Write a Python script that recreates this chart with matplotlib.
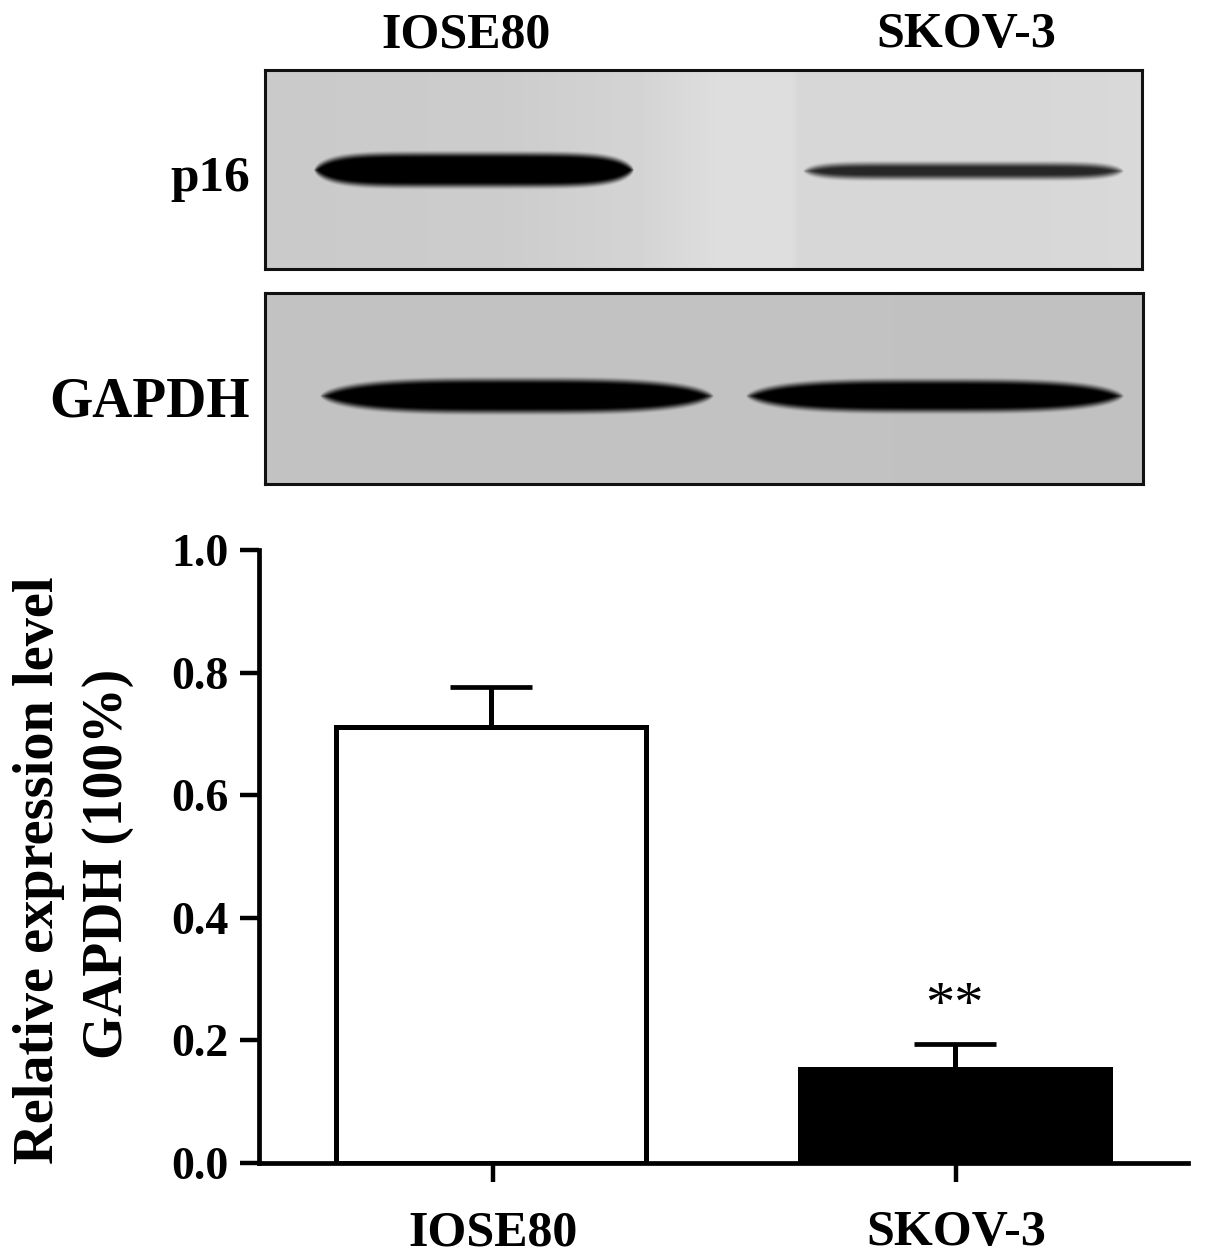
import numpy as np
import matplotlib
matplotlib.use("Agg")
import matplotlib.pyplot as plt

W, H = 1205, 1259

plt.rcParams['font.family'] = ['Liberation Serif', 'DejaVu Serif']
plt.rcParams['font.weight'] = 'bold'

# --- bar chart values ---
categories = ["IOSE80", "SKOV-3"]
means = [0.711, 0.153]
errors = [0.066, 0.041]
bar_colors = ["white", "black"]
y_ticks = [0.0, 0.2, 0.4, 0.6, 0.8, 1.0]
significance = "**"

# --- blot panels: bands are (x start, x end, y centre, half thickness, darkness, end shape) in pixels ---
p16_bands = [(314, 634, 170, 16, 1.0, 6), (803, 1124, 171, 7, 0.82, 8)]
gapdh_bands = [(320, 714, 396, 16, 1.0, 3.5), (746, 1124, 396, 15, 1.0, 3.5)]
# background grey across the panel, read at a few places
p16_bg_x = [265, 500, 640, 720, 790, 800, 1000, 1142]
p16_bg = [0.79, 0.80, 0.83, 0.87, 0.87, 0.84, 0.84, 0.85]
gapdh_bg_x = [265, 700, 1143]
gapdh_bg = [0.76, 0.76, 0.755]


def px_axes(left, top, right, bottom):
    return fig.add_axes([left / W, 1 - bottom / H, (right - left) / W, (bottom - top) / H])


def blot(ax, box, bands, bg_x, bg):
    left, top, right, bottom = box
    xs = np.arange(left, right) + 0.5
    ys = np.arange(top, bottom) + 0.5
    X, Y = np.meshgrid(xs, ys)
    img = np.interp(X, bg_x, bg)
    for x0, x1, yc, half, dark, shape in bands:
        c = (x0 + x1) / 2
        L = (x1 - x0) / 2
        u = np.clip(np.abs(X - c) / L, 0, 1)
        thick = (half + 4.5) * np.sqrt(1 - u ** shape) - 4.5
        a = np.clip((thick - np.abs(Y - yc)) / 9 + 0.5, 0, 1)
        a = a * a * (3 - 2 * a)
        img = img * (1 - a * dark)
    ax.imshow(img, cmap='gray', vmin=0, vmax=1, aspect='auto',
              extent=(left, right, bottom, top), interpolation='bilinear')
    ax.set_xticks([])
    ax.set_yticks([])
    for s in ax.spines.values():
        s.set_linewidth(2.2)
        s.set_color('#111111')


def px_text(x, y, s, size, ha='center', va='center', rotation=0):
    fig.text(x / W, 1 - y / H, s, fontsize=size, ha=ha, va=va, rotation=rotation,
             fontweight='bold', color='black')


fig = plt.figure(figsize=(W / 100, H / 100), dpi=100)

# --- western blots ---
box1 = (265, 70, 1142, 269)
box2 = (265, 293, 1143, 484)
blot(px_axes(*box1), box1, p16_bands, p16_bg_x, p16_bg)
blot(px_axes(*box2), box2, gapdh_bands, gapdh_bg_x, gapdh_bg)

px_text(466, 35, categories[0], 36)
px_text(966, 35, categories[1], 36)
px_text(250, 179, "p16", 37, ha='right')
px_text(250, 403, "GAPDH", 40, ha='right')

# --- bar chart ---
ax = px_axes(259, 550, 1188, 1163)
pos = np.arange(len(categories))
ax.bar(pos - 0.003, means, width=0.668, color=bar_colors, edgecolor='black', linewidth=3.6, zorder=3)
ax.errorbar(pos - 0.003, means, yerr=[np.zeros(2), errors], fmt='none', ecolor='black',
            elinewidth=3.6, capsize=29.5, capthick=3.4, zorder=2)
ax.text(pos[1] - 0.003, 0.254, significance, fontsize=42, ha='center', va='center', fontweight='normal')

ax.set_xlim(-0.504, 1.5)
ax.set_ylim(0, 1)
ax.set_xticks(pos)
ax.set_xticklabels(categories, fontsize=36)
ax.set_yticks(y_ticks)
ax.set_yticklabels([f"{v:.1f}" for v in y_ticks], fontsize=33)
ax.tick_params(axis='both', width=3.2, length=14, pad=8)
ax.tick_params(axis='x', pad=20)
for s in ['top', 'right']:
    ax.spines[s].set_visible(False)
for s in ['left', 'bottom']:
    ax.spines[s].set_linewidth(3.4)

px_text(39, 870, "Relative expression level", 40.5, rotation=90)
px_text(108, 864, "GAPDH (100%)", 40, rotation=90)

fig.savefig("out.png", dpi=100)
